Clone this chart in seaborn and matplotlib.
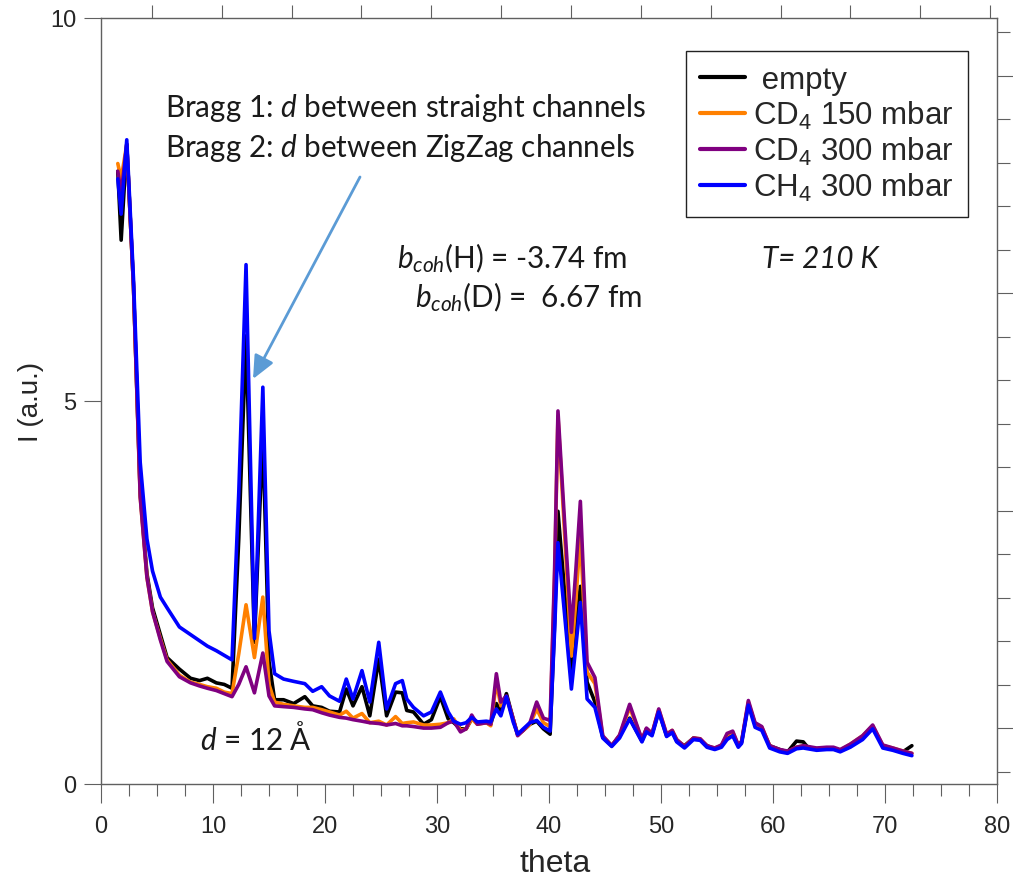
import numpy as np
import pandas as pd
import matplotlib.pyplot as plt
import seaborn as sns
from matplotlib.ticker import MultipleLocator, FixedLocator

# scattering angle (deg)
theta = [
    1.5, 1.8, 2.3, 2.9, 3.5, 4.1, 4.6, 5.3, 5.9, 7.0,
    8.0, 8.8, 9.5, 10.3, 11.0, 11.7, 12.3, 12.95, 13.7, 14.45,
    15.0, 15.5, 16.3, 17.2, 18.2, 18.9, 19.7, 20.4, 21.3, 21.9,
    22.5, 23.3, 24.0, 24.8, 25.5, 26.3, 26.9, 27.3, 27.9, 28.8,
    29.5, 30.3, 31.0, 31.5, 32.1, 32.6, 33.1, 33.6, 34.4, 34.8,
    35.3, 35.7, 36.2, 36.8, 37.2, 37.7, 38.3, 38.9, 39.5, 40.1,
    40.5, 40.8, 41.4, 42.0, 42.4, 42.8, 43.4, 44.1, 44.8, 45.6,
    46.3, 47.2, 48.3, 48.7, 49.2, 49.8, 50.5, 51.0, 51.4, 52.1,
    52.9, 53.5, 54.1, 54.8, 55.4, 55.9, 56.4, 56.9, 57.2, 57.8,
    58.4, 59.0, 59.7, 60.6, 61.3, 62.1, 62.7, 63.1, 63.9, 64.8,
    65.4, 66.0, 66.9, 68.0, 68.9, 69.8, 70.7, 71.6, 72.4]

i_empty = [
    8.0, 7.1, 8.35, 6.5, 3.8, 2.75, 2.3, 1.95, 1.65, 1.5,
    1.38, 1.35, 1.38, 1.32, 1.3, 1.25, 3.2, 5.85, 1.85, 4.58,
    1.6, 1.1, 1.1, 1.05, 1.14, 1.02, 1.0, 0.95, 0.94, 1.24,
    1.02, 1.27, 0.89, 1.63, 0.89, 1.2, 1.19, 0.96, 0.94, 0.78,
    0.84, 1.14, 0.85, 0.8, 0.72, 0.72, 0.85, 0.8, 0.8, 0.78,
    1.05, 0.95, 1.18, 0.85, 0.65, 0.7, 0.78, 0.82, 0.72, 0.65,
    2.1, 3.56, 2.5, 1.46, 2.0, 2.58, 1.33, 1.07, 0.61, 0.5,
    0.63, 0.86, 0.56, 0.72, 0.65, 0.95, 0.63, 0.69, 0.56, 0.5,
    0.6, 0.58, 0.5, 0.46, 0.5, 0.61, 0.65, 0.5, 0.55, 1.05,
    0.78, 0.72, 0.5, 0.45, 0.42, 0.56, 0.55, 0.48, 0.46, 0.47,
    0.46, 0.43, 0.5, 0.6, 0.74, 0.5, 0.46, 0.42, 0.5]

i_cd4_150 = [
    8.1, 7.9, 8.35, 6.5, 3.75, 2.7, 2.25, 1.9, 1.62, 1.42,
    1.33, 1.3, 1.27, 1.25, 1.2, 1.18, 1.7, 2.34, 1.65, 2.44,
    1.3, 1.07, 1.04, 1.02, 1.0, 1.0, 0.97, 0.94, 0.9, 0.95,
    0.86, 0.92, 0.8, 0.82, 0.77, 0.88, 0.79, 0.8, 0.81, 0.77,
    0.77, 0.78, 0.8, 0.85, 0.7, 0.72, 0.85, 0.78, 0.8, 0.76,
    1.33, 1.02, 1.13, 0.85, 0.64, 0.7, 0.78, 0.98, 0.8, 0.75,
    2.7, 4.8, 3.25, 1.67, 2.4, 3.25, 1.46, 1.31, 0.62, 0.5,
    0.63, 1.0, 0.58, 0.72, 0.66, 0.97, 0.65, 0.7, 0.58, 0.49,
    0.6, 0.59, 0.49, 0.47, 0.5, 0.64, 0.68, 0.5, 0.55, 1.07,
    0.78, 0.74, 0.5, 0.44, 0.42, 0.48, 0.5, 0.48, 0.46, 0.47,
    0.47, 0.44, 0.52, 0.63, 0.76, 0.5, 0.47, 0.43, 0.4]

i_cd4_300 = [
    8.0, 7.7, 8.35, 6.5, 3.75, 2.7, 2.25, 1.88, 1.6, 1.4,
    1.32, 1.28, 1.25, 1.22, 1.18, 1.14, 1.3, 1.53, 1.19, 1.71,
    1.15, 1.02, 1.01, 1.0, 0.98, 0.97, 0.93, 0.9, 0.87, 0.86,
    0.84, 0.82, 0.8, 0.79, 0.77, 0.79, 0.76, 0.76, 0.75, 0.73,
    0.73, 0.74, 0.8, 0.82, 0.68, 0.72, 0.9, 0.78, 0.8, 0.78,
    1.44, 1.07, 1.15, 0.85, 0.63, 0.7, 0.8, 1.07, 0.86, 0.83,
    2.8, 4.87, 3.4, 1.98, 2.8, 3.69, 1.59, 1.39, 0.63, 0.5,
    0.64, 1.04, 0.58, 0.73, 0.66, 0.98, 0.65, 0.7, 0.58, 0.49,
    0.6, 0.59, 0.5, 0.47, 0.51, 0.66, 0.69, 0.51, 0.56, 1.09,
    0.8, 0.75, 0.5, 0.45, 0.43, 0.48, 0.5, 0.49, 0.47, 0.48,
    0.48, 0.45, 0.52, 0.63, 0.77, 0.51, 0.47, 0.43, 0.4]

i_ch4_300 = [
    7.9, 7.44, 8.41, 6.6, 4.2, 3.2, 2.78, 2.44, 2.3, 2.05,
    1.95, 1.87, 1.8, 1.74, 1.68, 1.62, 3.8, 6.78, 1.9, 5.18,
    2.0, 1.44, 1.37, 1.34, 1.31, 1.21, 1.27, 1.15, 1.08, 1.37,
    1.11, 1.48, 1.07, 1.85, 0.98, 1.31, 1.35, 1.11, 1.0, 0.89,
    0.94, 1.2, 0.94, 0.82, 0.78, 0.8, 0.87, 0.81, 0.82, 0.81,
    0.98, 0.89, 1.14, 0.81, 0.65, 0.72, 0.8, 0.83, 0.74, 0.69,
    2.0, 3.15, 2.2, 1.24, 1.8, 2.37, 1.11, 1.0, 0.6, 0.49,
    0.6, 0.85, 0.55, 0.68, 0.63, 0.94, 0.62, 0.67, 0.55, 0.47,
    0.58, 0.57, 0.48, 0.45, 0.48, 0.58, 0.63, 0.48, 0.53, 1.03,
    0.74, 0.7, 0.47, 0.42, 0.4, 0.46, 0.47, 0.46, 0.44, 0.45,
    0.45, 0.42, 0.48, 0.58, 0.72, 0.47, 0.44, 0.4, 0.37]

samples = [" empty", "CD$_4$ 150 mbar", "CD$_4$ 300 mbar", "CH$_4$ 300 mbar"]
colors = ["#000000", "#FF8000", "#800080", "#0000FF"]

W, H = 1013, 879


def fx(px):
    return px / W


def fy(py):
    return 1 - py / H


sns.set_theme(style="ticks")
plt.rcParams['font.family'] = ['Liberation Sans', 'DejaVu Sans']
plt.rcParams['mathtext.fontset'] = 'custom'
plt.rcParams['mathtext.rm'] = 'Lato'
plt.rcParams['mathtext.it'] = 'Lato:italic'
plt.rcParams['mathtext.default'] = 'regular'

df = pd.concat([
    pd.DataFrame({'theta': theta, 'I': vals, 'sample': name})
    for name, vals in zip(samples, [i_empty, i_cd4_150, i_cd4_300, i_ch4_300])
])

fig = plt.figure(figsize=(W / 100, H / 100), dpi=100)
ax = fig.add_axes([fx(101), fy(785), (997 - 101) / W, (785 - 19) / H])

sns.lineplot(data=df, x='theta', y='I', hue='sample', hue_order=samples,
             palette=colors, sort=False, estimator=None, lw=2.6, ax=ax)

ax.set_xlim(0, 80)
ax.set_ylim(0, 10)
spine_c = '#606060'
for s in ax.spines.values():
    s.set_color(spine_c)
    s.set_linewidth(1.0)
ax.spines['top'].set_visible(False)
ax.spines['right'].set_visible(False)

ax.xaxis.set_major_locator(MultipleLocator(10))
ax.xaxis.set_minor_locator(MultipleLocator(2.5))
ax.yaxis.set_major_locator(MultipleLocator(5))
ax.tick_params(axis='x', which='major', direction='out', length=14, width=0.8,
               color=spine_c, labelsize=17, pad=8)
ax.tick_params(axis='x', which='minor', direction='out', length=8.5, width=0.8,
               color=spine_c)
ax.tick_params(axis='y', which='major', direction='out', length=12, width=0.8,
               color=spine_c, labelsize=17, pad=6)

ax.set_xlabel('theta', fontsize=23)
ax.xaxis.set_label_coords(0.507, -0.083)
ax.set_ylabel('I (a.u.)', fontsize=20)
ax.yaxis.set_label_coords(-0.064, 0.5)

# outer frame ticks (top and right)
ax_t = ax.twiny()
ax_t.set_xlim(-0.73, 12.1)
ax_t.xaxis.set_major_locator(MultipleLocator(1))
ax_t.tick_params(axis='x', direction='out', length=9.5, width=0.8, color=spine_c,
                 labeltop=False)
ax_r = ax.twinx()
ax_r.set_ylim(-0.276, 17.33)
ax_r.yaxis.set_major_locator(FixedLocator([1, 6, 11, 16]))
ax_r.yaxis.set_minor_locator(FixedLocator(list(range(0, 18))))
ax_r.tick_params(axis='y', which='major', direction='out', length=11.5, width=0.8,
                 color=spine_c, labelright=False)
ax_r.tick_params(axis='y', which='minor', direction='out', length=9, width=0.8,
                 color=spine_c)
for a, keep in [(ax_t, 'top'), (ax_r, 'right')]:
    for name, s in a.spines.items():
        s.set_visible(name == keep)
        s.set_color(spine_c)
        s.set_linewidth(1.0)

# legend
leg = ax.get_legend()
handles = leg.legend_handles
for h in handles:
    h.set_linewidth(3)
leg.remove()
fig.legend(handles, samples, loc='upper left',
           bbox_to_anchor=(fx(686), fy(52)), borderaxespad=0, fontsize=22.5,
           frameon=True, fancybox=False, framealpha=1, edgecolor='#222222',
           handlelength=1.45, handletextpad=0.25, labelspacing=0.12,
           borderpad=0.45)

# annotations
tc = '#1a1a1a'
tkw = dict(family=['Lato', 'DejaVu Sans'], fontsize=21.3, color=tc, va='baseline')
fig.text(fx(165), fy(117), r'Bragg 1: $\mathit{d}$ between straight channels', **tkw)
fig.text(fx(165), fy(157), r'Bragg 2: $\mathit{d}$ between ZigZag channels', **tkw)
fig.text(fx(397), fy(268), r'$\mathit{b}_{\mathit{coh}}$(H) = -3.74 fm', **tkw)
fig.text(fx(415), fy(307), r'$\mathit{b}_{\mathit{coh}}$(D) =  6.67 fm', **tkw)
fig.text(fx(762), fy(268), 'T= 210 K', style='italic', **tkw)
fig.text(fx(200), fy(750), r'$\mathit{d}$ = 12 Å', **tkw)

ax.annotate('', xy=(fx(253), fy(380)), xytext=(fx(360), fy(178)),
            xycoords='figure fraction', textcoords='figure fraction',
            arrowprops=dict(arrowstyle='-|>,head_length=1.0,head_width=0.45',
                            color='#5B9BD5', lw=2, mutation_scale=14,
                            shrinkA=0, shrinkB=0))

fig.savefig('out.png', dpi=100)
